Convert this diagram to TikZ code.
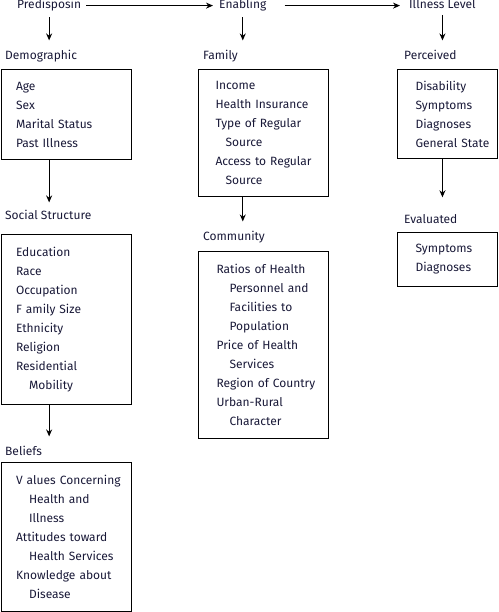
\documentclass[tikz,border=0pt]{standalone}
\usepackage{fontspec}
\setmainfont{Fira Sans}
\usetikzlibrary{arrows.meta, positioning}
\definecolor{InkNavy}{rgb}{0.1, 0.1, 0.22}
\newcommand{\subline}{\hspace*{13pt}}

\begin{document}
\begin{tikzpicture}[
    x=1pt, y=-1pt,
    font=\fontsize{12}{19}\selectfont,
    level/.style={inner sep=0pt, anchor=base west, text=InkNavy},
    head/.style={inner sep=0pt, anchor=base west, text=InkNavy},
    box/.style 2 args={draw, line width=1.1pt, anchor=north west, inner sep=0pt,
        text width=#1, minimum height=#2, align=left, text=InkNavy,
        execute at begin node={\setlength{\leftskip}{15pt}}},
    flow/.style={-{Stealth[length=7pt, width=6pt]}, line width=1.1pt},
]
\useasboundingbox (0,0) rectangle (498,612);

% three levels on top
\node[level] (pred) at (17,9) {Predisposin};
\node[level] (enab) at (219,9) {Enabling};
\node[level] (ill) at (409,9) {Illness Level};

\draw[flow, shorten <=5pt, shorten >=6pt] (pred.east) -- (pred.east -| enab.west);
\draw[flow, shorten <=18pt, shorten >=9pt] (enab.east) -- (enab.east -| ill.west);

% predisposing column
\node[head] (demoh) at (5,60) {Demographic};
\node[box={130pt}{90pt}] (demo) at (0.5,69)
    {Age\\Sex\\Marital Status\\Past Illness};
\node[head] (socialh) at (5,219) {Social Structure};
\node[box={130pt}{170pt}] (social) at (0.5,234)
    {Education\\Race\\Occupation\\F amily Size\\Ethnicity\\Religion\\Residential\\\subline Mobility};
\node[head] (beliefh) at (5,455) {Beliefs};
\node[box={130pt}{149pt}] (beliefs) at (0.5,462)
    {V alues Concerning\\\subline Health and\\\subline Illness\\Attitudes toward\\\subline Health Services\\Knowledge about\\\subline Disease};

% enabling column
\node[head] (famh) at (203,60) {Family};
\node[box={130pt}{127pt}, execute at begin node={\setlength{\leftskip}{17pt}}] (fam) at (198,69)
    {Income\\Health Insurance\\Type of Regular\\\hspace*{10pt}Source\\Access to Regular\\\hspace*{10pt}Source};
\node[head] (communh) at (203,240) {Community};
\node[box={130pt}{187pt}, execute at begin node={\setlength{\leftskip}{18pt}}] (commun) at (198,250.5)
    {Ratios of Health\\\subline Personnel and\\\subline Facilities to\\\subline Population\\Price of Health\\\subline Services\\Region of Country\\Urban-Rural\\\subline Character};

% illness level column
\node[head] (perch) at (404,60) {Perceived};
\node[box={99.5pt}{89pt}, execute at begin node={\setlength{\leftskip}{18pt}}] (perc) at (397,69)
    {Disability\\Symptoms\\Diagnoses\\General State};
\node[head] (evalh) at (404,223.5) {Evaluated};
\node[box={99.5pt}{54pt}, execute at begin node={\setlength{\leftskip}{18pt}}] (eval) at (397,232)
    {Symptoms\\Diagnoses};

% down arrows
\draw[flow, shorten <=5.5pt, shorten >=10pt] (pred.south) -- (pred.south |- demoh.north);
\draw[flow, shorten <=5.5pt, shorten >=10pt] (enab.south) -- (enab.south |- famh.north);
\draw[flow, shorten <=5.5pt, shorten >=10pt] (ill.south) -- (ill.south |- perch.north);
\draw[flow, shorten >=7pt] (demo.south -| pred.south) -- (pred.south |- socialh.north);
\draw[flow, shorten >=9pt] (social.south -| pred.south) -- (pred.south |- beliefh.north);
\draw[flow, shorten >=9pt] (fam.south -| enab.south) -- (enab.south |- communh.north);
\draw[flow, shorten >=17pt] (perc.south -| ill.south) -- (ill.south |- evalh.north);

\end{tikzpicture}
\end{document}
